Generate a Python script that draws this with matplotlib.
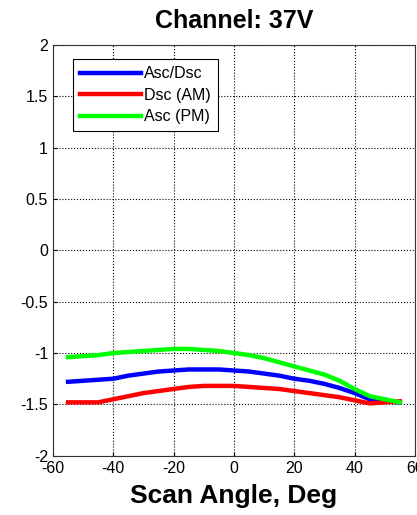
import numpy as np
import matplotlib.pyplot as plt

plt.rcParams["axes.unicode_minus"] = False
plt.rcParams["font.family"] = ["Liberation Sans", "DejaVu Sans"]

angle = [-55, -50, -45, -40, -35, -30, -25, -20, -15, -10, -5, 0, 5, 10, 15, 20, 25, 30, 35, 40, 45, 50, 55]
asc_dsc = [-1.28, -1.27, -1.26, -1.25, -1.22, -1.20, -1.18, -1.17, -1.16, -1.16, -1.16, -1.17, -1.18, -1.20, -1.22, -1.25, -1.27, -1.30, -1.34, -1.39, -1.45, -1.47, -1.48]
dsc_am = [-1.48, -1.48, -1.48, -1.45, -1.42, -1.39, -1.37, -1.35, -1.33, -1.32, -1.32, -1.32, -1.33, -1.34, -1.35, -1.37, -1.39, -1.41, -1.43, -1.46, -1.49, -1.48, -1.47]
asc_pm = [-1.04, -1.03, -1.02, -1.00, -0.99, -0.98, -0.97, -0.96, -0.96, -0.97, -0.98, -1.00, -1.02, -1.05, -1.09, -1.13, -1.17, -1.21, -1.27, -1.35, -1.42, -1.45, -1.48]

fig = plt.figure(figsize=(4.17, 5.15), dpi=100)
ax = fig.add_axes([0.127, 0.115, 0.868, 0.798])

ax.plot(angle, asc_dsc, color="#0000ff", lw=3.2, label="Asc/Dsc")
ax.plot(angle, dsc_am, color="#ff0000", lw=3.2, label="Dsc (AM)")
ax.plot(angle, asc_pm, color="#00ff00", lw=3.2, label="Asc (PM)")

ax.set_xlim(-60, 60)
ax.set_ylim(-2, 2)
ax.set_xticks(range(-60, 61, 20))
ax.set_yticks(np.arange(-2, 2.01, 0.5))
ax.set_yticklabels(["-2", "-1.5", "-1", "-0.5", "0", "0.5", "1", "1.5", "2"])
ax.grid(True, linestyle=":", color="black", linewidth=0.8)
ax.tick_params(labelsize=11.5, direction="in", length=3)
for s in ax.spines.values():
    s.set_color("#333333")

ax.set_title("Channel: 37V", fontsize=18, fontweight="bold", pad=12)
ax.set_xlabel("Scan Angle, Deg", fontsize=19, fontweight="bold", labelpad=6)

leg = ax.legend(loc="upper left", bbox_to_anchor=(0.055, 0.965), fontsize=11.5,
                handlelength=3.8, fancybox=False, framealpha=1,
                edgecolor="black", borderaxespad=0, handletextpad=0.2,
                labelspacing=0.4, borderpad=0.45)
leg.get_frame().set_linewidth(0.8)

plt.savefig("out.png")
